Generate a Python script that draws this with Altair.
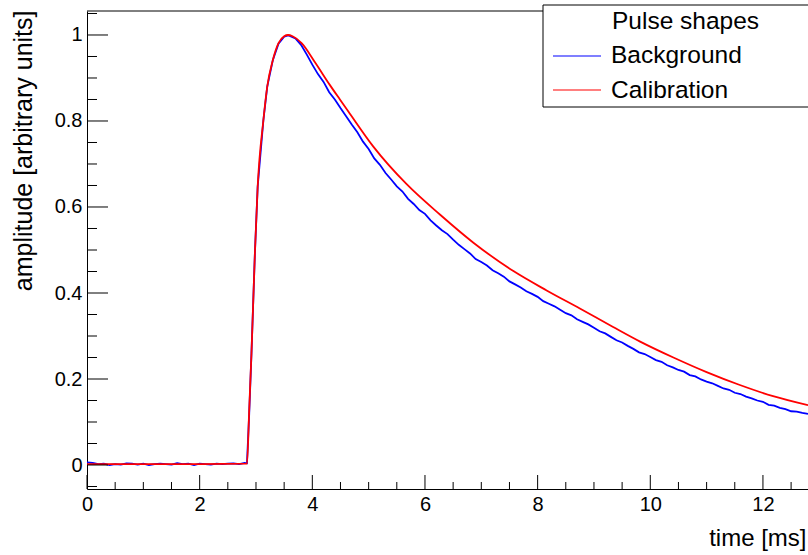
import altair as alt
import pandas as pd

# ---------------- data ----------------
# Calibration pulse (smooth)
cal_t = [0.0, 1.0, 2.0, 2.84, 2.88, 2.92, 2.98, 3.03, 3.13, 3.20, 3.30, 3.40, 3.50, 3.57,
         3.65, 3.81, 4.05, 4.31, 4.49, 4.64, 5.08, 5.675, 6.27, 6.86, 7.57, 8.16, 8.75,
         9.34, 9.82, 10.41, 11.0, 11.59, 12.18, 12.8]
cal_v = [0.002, 0.002, 0.002, 0.003, 0.13, 0.26, 0.49, 0.647, 0.80, 0.88, 0.942, 0.981, 0.997, 1.0,
         0.997, 0.981, 0.936, 0.884, 0.850, 0.822, 0.741, 0.653, 0.582, 0.517, 0.451, 0.406, 0.364,
         0.321, 0.287, 0.250, 0.216, 0.186, 0.160, 0.139]

# Background pulse (noisy)
bkg_base_t = [round(0.1 * i, 1) for i in range(29)]
bkg_base_v = [0.006, 0.005, 0.002, 0.003, 0.000, 0.002, 0.001, 0.004, 0.003, 0.001,
              0.003, 0.000, 0.002, 0.003, 0.002, 0.001, 0.004, 0.002, 0.003, 0.000,
              0.003, 0.002, 0.001, 0.003, 0.002, 0.003, 0.004, 0.002, 0.005]
bkg_rise_t = [2.84, 2.88, 2.92, 2.98, 3.03, 3.13, 3.20, 3.30, 3.40, 3.50, 3.57]
bkg_rise_v = [0.004, 0.12, 0.26, 0.49, 0.647, 0.80, 0.88, 0.942, 0.980, 0.996, 0.999]
bkg_decay_t = [round(3.6 + 0.1 * i, 1) for i in range(93)]
bkg_decay_v = [0.998, 0.992, 0.977, 0.955, 0.931, 0.909, 0.891, 0.867, 0.850, 0.830,
               0.811, 0.792, 0.774, 0.752, 0.735, 0.713, 0.698, 0.679, 0.664, 0.648,
               0.636, 0.619, 0.607, 0.593, 0.584, 0.569, 0.557, 0.546, 0.537, 0.524,
               0.512, 0.502, 0.492, 0.479, 0.472, 0.464, 0.453, 0.446, 0.438, 0.427,
               0.420, 0.413, 0.404, 0.398, 0.391, 0.381, 0.375, 0.369, 0.361, 0.353,
               0.348, 0.339, 0.333, 0.327, 0.319, 0.311, 0.306, 0.298, 0.290, 0.285,
               0.277, 0.270, 0.262, 0.258, 0.251, 0.244, 0.240, 0.232, 0.227, 0.221,
               0.217, 0.209, 0.206, 0.199, 0.194, 0.190, 0.184, 0.178, 0.175, 0.168,
               0.165, 0.159, 0.155, 0.150, 0.147, 0.140, 0.138, 0.133, 0.130, 0.125,
               0.124, 0.121, 0.119]

x_major = [0, 2, 4, 6, 8, 10, 12]
x_minor = [0.5, 1, 1.5, 2.5, 3, 3.5, 4.5, 5, 5.5, 6.5, 7, 7.5, 8.5, 9, 9.5, 10.5, 11, 11.5, 12.5]
y_major = [0, 0.2, 0.4, 0.6, 0.8, 1]
y_minor = [-0.05, 0.05, 0.1, 0.15, 0.25, 0.3, 0.35, 0.45, 0.5, 0.55, 0.65, 0.7, 0.75,
           0.85, 0.9, 0.95, 1.05]

legend_title = "Pulse shapes"
series_names = ["Background", "Calibration"]
series_colors = ["#0000ff", "#ff0000"]

# ---------------- chart ----------------
W, H = 721, 478
FONT = "Liberation Sans"

xs = alt.Scale(domain=[0, 12.8], nice=False, zero=False)
ys = alt.Scale(domain=[-0.0558, 1.0558], nice=False, zero=False)

x_axis = alt.Axis(
    values=x_major, ticks=False, grid=False, domain=True, domainColor="black",
    domainWidth=1, labelFont=FONT, labelFontSize=20, labelColor="black",
    labelPadding=5, title="time [ms]", titleFont=FONT, titleFontSize=24,
    titleFontWeight="normal", titleColor="black", titleX=719, titleY=56,
    titleAlign="right", titleBaseline="alphabetic", labelFlush=False)
y_axis = alt.Axis(
    values=y_major, format="~g", ticks=False, grid=False, domain=True,
    domainColor="black", domainWidth=1, labelFont=FONT, labelFontSize=20,
    labelColor="black", labelPadding=5, title="amplitude [arbitrary units]",
    titleFont=FONT, titleFontSize=25, titleFontWeight="normal", titleColor="black",
    titleX=-56, titleY=-1, titleAngle=270, titleAlign="right",
    titleBaseline="alphabetic", labelFlush=False)

bkg = pd.DataFrame({"t": bkg_base_t + bkg_rise_t + bkg_decay_t,
                    "v": bkg_base_v + bkg_rise_v + bkg_decay_v})
cal = pd.DataFrame({"t": cal_t, "v": cal_v})

blue = alt.Chart(bkg).mark_line(color=series_colors[0], strokeWidth=1.8).encode(
    x=alt.X("t:Q", scale=xs, axis=x_axis),
    y=alt.Y("v:Q", scale=ys, axis=y_axis),
)

red = alt.Chart(cal).mark_line(color=series_colors[1], strokeWidth=1.8,
                               interpolate="monotone").encode(
    x=alt.X("t:Q", scale=xs, axis=x_axis),
    y=alt.Y("v:Q", scale=ys, axis=y_axis),
)

def tick_rules(vals, channel, length):
    df = pd.DataFrame({"t": vals, "v": vals})
    if channel == "x":
        return alt.Chart(df).mark_rule(color="black", strokeWidth=1).encode(
            x=alt.X("t:Q", scale=xs, axis=x_axis),
            y=alt.value(H), y2=alt.value(H - length))
    return alt.Chart(df).mark_rule(color="black", strokeWidth=1).encode(
        y=alt.Y("v:Q", scale=ys, axis=y_axis),
        x=alt.value(0), x2=alt.value(length))

one = pd.DataFrame({"k": [0]})
top_frame = alt.Chart(one).mark_rule(color="black", strokeWidth=1).encode(
    x=alt.value(0), x2=alt.value(W), y=alt.value(0))

# legend box (cut by the right edge as in the reference)
leg_bg = alt.Chart(one).mark_rect(fill="white").encode(
    x=alt.value(456), x2=alt.value(W + 5), y=alt.value(-6), y2=alt.value(96))
leg_top = alt.Chart(one).mark_rule(color="black", strokeWidth=1).encode(
    x=alt.value(456), x2=alt.value(W), y=alt.value(-6))
leg_bot = alt.Chart(one).mark_rule(color="black", strokeWidth=1).encode(
    x=alt.value(456), x2=alt.value(W), y=alt.value(96))
leg_left = alt.Chart(one).mark_rule(color="black", strokeWidth=1).encode(
    x=alt.value(456), y=alt.value(-6), y2=alt.value(96))
leg_title = alt.Chart(one).mark_text(text=legend_title, font=FONT, fontSize=24.5,
                                     align="left", baseline="alphabetic", color="black").encode(
    x=alt.value(525), y=alt.value(18))
leg_lab1 = alt.Chart(one).mark_text(text=series_names[0], font=FONT, fontSize=24.5,
                                    align="left", baseline="alphabetic", color="black").encode(
    x=alt.value(524), y=alt.value(52))
leg_lab2 = alt.Chart(one).mark_text(text=series_names[1], font=FONT, fontSize=24.5,
                                    align="left", baseline="alphabetic", color="black").encode(
    x=alt.value(524), y=alt.value(87))
leg_line1 = alt.Chart(one).mark_rule(color=series_colors[0], strokeWidth=1.2).encode(
    x=alt.value(466), x2=alt.value(514), y=alt.value(45))
leg_line2 = alt.Chart(one).mark_rule(color=series_colors[1], strokeWidth=1.2).encode(
    x=alt.value(466), x2=alt.value(514), y=alt.value(79))

chart = alt.layer(
    blue, red,
    tick_rules(x_major, "x", 14), tick_rules(x_minor, "x", 7),
    tick_rules(y_major, "y", 21), tick_rules(y_minor, "y", 10),
    top_frame,
    leg_bg, leg_top, leg_bot, leg_left,
    leg_title, leg_lab1, leg_lab2, leg_line1, leg_line2,
).properties(
    width=W, height=H,
    padding={"left": 87, "top": 11, "right": 0, "bottom": 66},
    autosize=alt.AutoSizeParams(type="none"),
    background="white",
).configure_view(stroke=None)

chart.save("out.html", embed_options={"renderer": "svg", "actions": False})
